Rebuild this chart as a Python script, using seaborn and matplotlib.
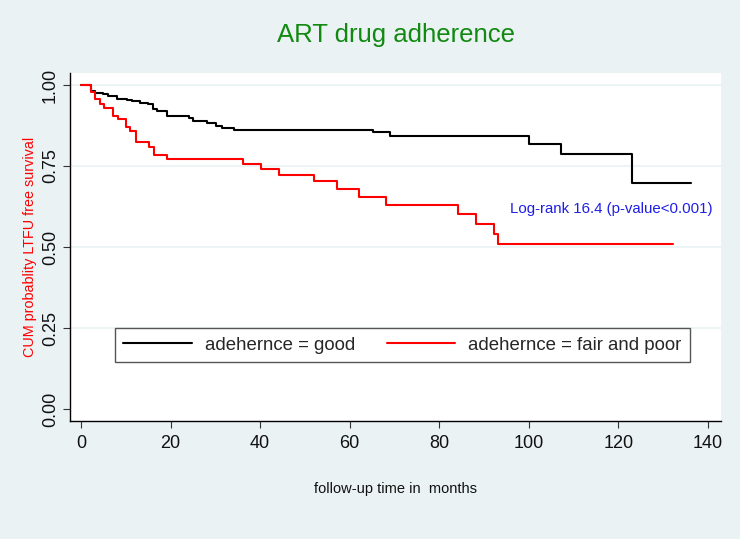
import matplotlib
matplotlib.use("Agg")
import matplotlib.pyplot as plt
import seaborn as sns
import pandas as pd

# ---- data ----
good_time = [0, 2.2, 3.1, 4.8, 6.1, 8.1, 10.2, 11.3, 13.2, 15.0, 16.0, 16.9, 19.1,
             24.0, 25.1, 28.1, 30.1, 31.4, 34.2, 65.1, 69.1, 100.1, 107.1, 123.1, 136.2]
good_surv = [1.0, 0.982, 0.976, 0.972, 0.966, 0.958, 0.953, 0.950, 0.945, 0.942, 0.926, 0.921, 0.905,
             0.897, 0.890, 0.883, 0.874, 0.866, 0.860, 0.854, 0.842, 0.818, 0.786, 0.699, 0.699]

poor_time = [0, 2.2, 3.1, 4.2, 5.1, 7.2, 8.2, 10.1, 11.0, 12.2, 15.2, 16.2, 19.1,
             36.1, 40.2, 44.1, 52.0, 57.1, 62.1, 68.1, 84.1, 88.1, 92.2, 93.0, 132.2]
poor_surv = [1.0, 0.979, 0.956, 0.941, 0.929, 0.905, 0.894, 0.869, 0.859, 0.823, 0.808, 0.785, 0.772,
             0.755, 0.740, 0.722, 0.703, 0.679, 0.655, 0.631, 0.601, 0.571, 0.539, 0.508, 0.508]

groups = ["adehernce = good", "adehernce = fair and poor"]
x_ticks = [0, 20, 40, 60, 80, 100, 120, 140]
y_ticks = [0.00, 0.25, 0.50, 0.75, 1.00]
y_tick_labels = ["0.00", "0.25", "0.50", "0.75", "1.00"]

title = "ART drug adherence"
xlabel = "follow-up time in  months"
ylabel = "CUM probablity LTFU free survival"
annotation = "Log-rank 16.4 (p-value<0.001)"

df = pd.concat([
    pd.DataFrame({"time": good_time, "surv": good_surv, "group": groups[0]}),
    pd.DataFrame({"time": poor_time, "surv": poor_surv, "group": groups[1]}),
], ignore_index=True)

# ---- style ----
sns.set_style("white")
plt.rcParams["font.family"] = ["Liberation Sans", "DejaVu Sans"]
BG = "#EAF2F3"

W, H = 740, 539
fig = plt.figure(figsize=(W / 100, H / 100), dpi=100, facecolor=BG)
L, R, T, B = 70, 721, 73, 421
ax = fig.add_axes([L / W, 1 - B / H, (R - L) / W, (B - T) / H])
ax.set_facecolor("white")

sns.lineplot(data=df, x="time", y="surv", hue="group", hue_order=groups,
             palette=["black", "#FF0000"], estimator=None, sort=False,
             drawstyle="steps-post", linewidth=1.5, legend=False, ax=ax, zorder=3)

ax.set_xlim(-2.46, 142.9)
ax.set_ylim(-0.037, 1.037)
ax.set_xticks(x_ticks)
ax.set_xticklabels([str(v) for v in x_ticks], fontsize=13, color="#111111")
ax.set_yticks(y_ticks)
ax.set_yticklabels(y_tick_labels, fontsize=13, color="#111111", rotation=90, va="center")

for v in y_ticks[1:]:
    ax.axhline(v, color=BG, lw=1.2, zorder=1)

for s in ["top", "right"]:
    ax.spines[s].set_visible(False)
for s in ["left", "bottom"]:
    ax.spines[s].set_color("black")
    ax.spines[s].set_linewidth(1.0)

ax.tick_params(axis="both", direction="out", length=5, width=0.8, color="#333333")
ax.tick_params(axis="x", bottom=True, pad=5)
ax.tick_params(axis="y", left=True, pad=3)

ax.set_xlabel(xlabel, fontsize=10.5, color="#111111")
ax.xaxis.set_label_coords(0.5, -0.174)
ax.set_ylabel(ylabel, fontsize=10.4, color="#FF0000")
ax.yaxis.set_label_coords(-0.050, 0.5)

fig.text(396 / W, 1 - 42 / H, title, ha="center", va="baseline", fontsize=18.5, color="#128A12")

ax.text(95.8, 0.617, annotation, ha="left", va="center", fontsize=10.8, color="#1E1EE6")

handles = ax.lines[:2]
leg = ax.legend(handles, groups, loc="center left", bbox_to_anchor=(45 / 651, 0.218), ncol=2,
                frameon=True, fancybox=False, framealpha=1, edgecolor="#555555",
                fontsize=13.4, handlelength=3.7, handletextpad=0.7, columnspacing=1.67,
                borderpad=0.45, borderaxespad=0)
leg.get_frame().set_linewidth(1.0)

fig.savefig("out.png", dpi=100, facecolor=BG)
